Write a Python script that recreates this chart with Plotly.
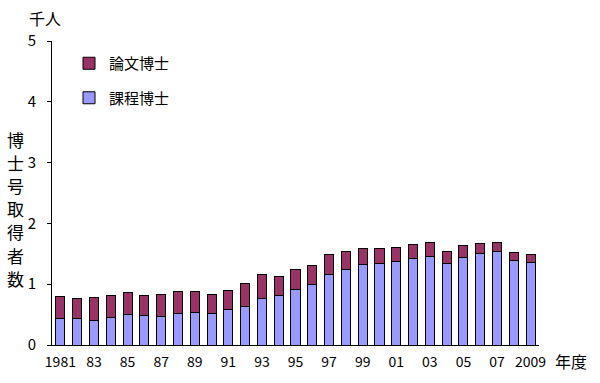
import plotly.graph_objects as go

years = list(range(1981, 2010))
total = [0.797, 0.758, 0.775, 0.808, 0.857, 0.819, 0.835, 0.879, 0.874, 0.835,
         0.890, 1.005, 1.165, 1.132, 1.242, 1.313, 1.484, 1.544, 1.582, 1.588,
         1.604, 1.648, 1.681, 1.544, 1.632, 1.670, 1.692, 1.527, 1.484]
course = [0.429, 0.429, 0.396, 0.456, 0.495, 0.478, 0.462, 0.516, 0.527, 0.522,
          0.588, 0.637, 0.758, 0.813, 0.907, 0.995, 1.165, 1.247, 1.319, 1.346,
          1.379, 1.423, 1.456, 1.341, 1.434, 1.511, 1.544, 1.390, 1.352]
thesis = [round(t - c, 3) for t, c in zip(total, course)]
tick_years = list(range(1981, 2010, 2))
tick_labels = ["1981"] + [f"{y % 100:02d}" for y in tick_years[1:-1]] + ["2009"]
ytitle_chars = list("博士号取得者数")

FONT = "Noto Sans CJK JP"
L, R, T, B = 52, 61, 41, 38
W, H = 600, 383
pw, ph = W - L - R, H - T - B


def px(x, y):
    return (x - L) / pw, (H - B - y) / ph


fig = go.Figure()
fig.add_trace(go.Bar(x=years, y=course, name="課程博士", legendgroup="a", legendrank=2,
                     marker=dict(color="#9999FF", line=dict(color="#000000", width=1))))
fig.add_trace(go.Bar(x=years, y=thesis, name="論文博士", legendgroup="b", legendrank=1,
                     marker=dict(color="#993366", line=dict(color="#000000", width=1))))

anns = []
for i, ch in enumerate(ytitle_chars):
    x, y = px(15, 139 + i * 23.2)
    anns.append(dict(text=ch, x=x, y=y, xref="paper", yref="paper", showarrow=False,
                     font=dict(size=17, family=FONT), xanchor="center", yanchor="middle"))
x, y = px(45, 18)
anns.append(dict(text="千人", x=x, y=y, xref="paper", yref="paper", showarrow=False,
                 font=dict(size=16, family=FONT), xanchor="center", yanchor="middle"))
x, y = px(571, 361)
anns.append(dict(text="年度", x=x, y=y, xref="paper", yref="paper", showarrow=False,
                 font=dict(size=16, family=FONT), xanchor="center", yanchor="middle"))

lx, ly = px(69, 47)

fig.update_layout(
    width=W, height=H,
    barmode="stack", bargap=0.46,
    paper_bgcolor="white", plot_bgcolor="white",
    margin=dict(l=L, r=R, t=T, b=B),
    font=dict(family=FONT, size=15, color="#000000"),
    showlegend=True,
    legend=dict(x=lx, y=ly, xanchor="left", yanchor="top",
                traceorder="grouped", tracegroupgap=12,
                font=dict(size=15, family=FONT), bgcolor="rgba(0,0,0,0)",
                itemwidth=30),
    xaxis=dict(range=[1980.5, 2009.5], tickmode="array", tickvals=tick_years,
               ticktext=tick_labels, showline=True, linecolor="#000000",
               linewidth=1, ticks="", showgrid=False, zeroline=False,
               ticklabelstandoff=4, tickfont=dict(size=14, family=FONT)),
    yaxis=dict(range=[0, 5], tickvals=[0, 1, 2, 3, 4, 5], showline=True,
               linecolor="#000000", linewidth=1, ticks="outside", ticklen=4,
               tickcolor="#000000", showgrid=False, zeroline=False,
               ticklabelstandoff=8, tickfont=dict(size=15, family=FONT)),
    annotations=anns,
)

fig.write_html("out.html", config={"displayModeBar": False},
               post_script="document.body.style.margin='0';")
